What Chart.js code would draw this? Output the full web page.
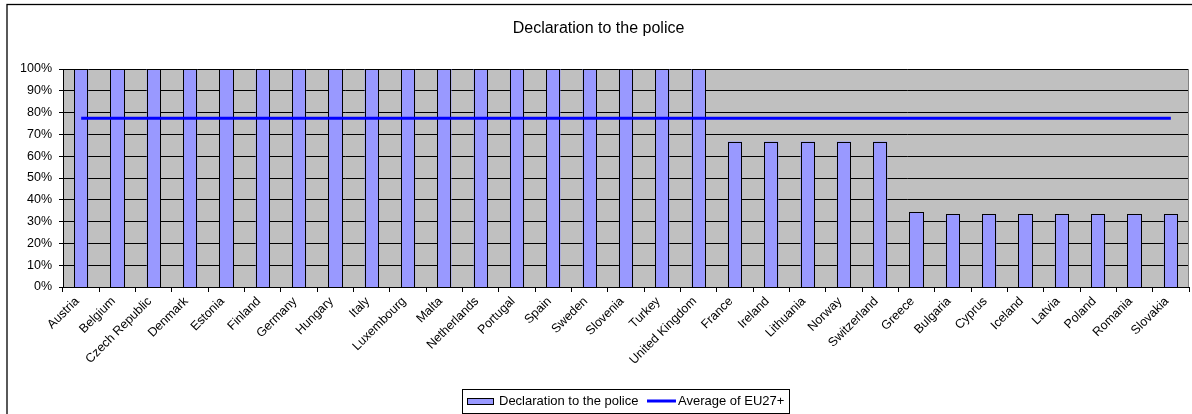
<!DOCTYPE html>
<html><head><meta charset="utf-8">
<script src="https://cdn.jsdelivr.net/npm/chart.js@4.4.0/dist/chart.umd.min.js"></script>
<style>html,body{margin:0;padding:0;background:#fff;}#wrap{width:1192px;height:414px;position:relative;overflow:hidden}</style>
</head><body><div id="wrap"><canvas id="c" width="1192" height="414"></canvas></div>
<script>
const chartTitle = 'Declaration to the police';
const categories = ['Austria','Belgium','Czech Republic','Denmark','Estonia','Finland','Germany','Hungary','Italy','Luxembourg','Malta','Netherlands','Portugal','Spain','Sweden','Slovenia','Turkey','United Kingdom','France','Ireland','Lithuania','Norway','Switzerland','Greece','Bulgaria','Cyprus','Iceland','Latvia','Poland','Romania','Slovakia'];
const barLabel = 'Declaration to the police';
const barValues = [100,100,100,100,100,100,100,100,100,100,100,100,100,100,100,100,100,100,66.7,66.7,66.7,66.7,66.7,34.4,33.3,33.3,33.3,33.3,33.3,33.3,33.3];
const lineLabel = 'Average of EU27+';
const lineValues = [77.4,77.4,77.4,77.4,77.4,77.4,77.4,77.4,77.4,77.4,77.4,77.4,77.4,77.4,77.4,77.4,77.4,77.4,77.4,77.4,77.4,77.4,77.4,77.4,77.4,77.4,77.4,77.4,77.4,77.4,77.4];
const yTicks = [0,10,20,30,40,50,60,70,80,90,100];

const FONT = 'Liberation Sans, Arial, sans-serif';

const framePlugin = {
  id: 'frame',
  beforeDraw(chart) {
    const ctx = chart.ctx, a = chart.chartArea;
    ctx.save();
    ctx.fillStyle = '#fff';
    ctx.fillRect(0, 0, chart.width, chart.height);
    ctx.strokeStyle = '#000';
    ctx.lineWidth = 1.3;
    ctx.strokeRect(7, 4.5, chart.width + 20, chart.height + 20);
    ctx.fillStyle = '#C0C0C0';
    ctx.fillRect(a.left, a.top, a.right - a.left, a.bottom - a.top);
    ctx.restore();
  },
  afterDatasetDraw(chart, args) {
    if (args.index !== 0) return;
    const ctx = chart.ctx;
    ctx.save();
    args.meta.data.forEach(bar => {
      const p = bar.getProps(['x', 'y', 'base', 'width'], true);
      const L = Math.round(p.x - p.width / 2), R = Math.round(p.x + p.width / 2);
      const T = Math.round(p.y), B = Math.round(p.base);
      ctx.fillStyle = chart.data.datasets[0].backgroundColor;
      ctx.fillRect(L, T, R - L, B - T);
      ctx.strokeStyle = '#000';
      ctx.lineWidth = 1;
      ctx.strokeRect(L + 0.5, T + 0.5, R - L - 1, B - T);
    });
    ctx.restore();
  },
  afterDraw(chart) {
    const ctx = chart.ctx, a = chart.chartArea;
    ctx.save();
    ctx.strokeStyle = '#808080';
    ctx.lineWidth = 1;
    ctx.beginPath();
    ctx.moveTo(Math.round(a.right) - 0.5, a.top);
    ctx.lineTo(Math.round(a.right) - 0.5, a.bottom);
    ctx.stroke();
    // legend
    const ds = chart.data.datasets;
    ctx.font = '13px ' + FONT;
    const w1 = ctx.measureText(ds[0].label).width;
    const w2 = ctx.measureText(ds[1].label).width;
    const total = 5 + 26 + 6 + w1 + 8.5 + 29 + 2 + w2 + 4.5;
    const left = Math.round(625.5 - total / 2);
    const top = 389, h = 24, cy = 401;
    ctx.strokeStyle = '#000';
    ctx.lineWidth = 1;
    ctx.strokeRect(left + 0.5, top + 0.5, Math.round(total), h);
    let x = left + 5;
    ctx.fillStyle = ds[0].backgroundColor;
    ctx.fillRect(x, cy - 3, 26, 6);
    ctx.strokeRect(x + 0.5, cy - 3 + 0.5, 26, 6);
    x += 26 + 6;
    ctx.fillStyle = '#000';
    ctx.textBaseline = 'middle';
    ctx.textAlign = 'left';
    ctx.fillText(ds[0].label, x, cy);
    x += w1 + 8.5;
    ctx.strokeStyle = ds[1].borderColor;
    ctx.lineWidth = 3;
    ctx.beginPath();
    ctx.moveTo(x, cy); ctx.lineTo(x + 29, cy); ctx.stroke();
    x += 29 + 2;
    ctx.fillText(ds[1].label, x, cy);
    ctx.restore();
  }
};

new Chart(document.getElementById('c'), {
  type: 'bar',
  data: {
    labels: categories,
    datasets: [
      { type: 'bar', label: barLabel, data: barValues, backgroundColor: '#9999FF', borderColor: '#000', borderWidth: 0,
        barPercentage: 0.39, categoryPercentage: 1, order: 1, clip: 2 },
      { type: 'line', label: lineLabel, data: lineValues, borderColor: '#0000FF', backgroundColor: '#0000FF', borderWidth: 3,
        pointRadius: 0, fill: false, tension: 0, order: 0 }
    ]
  },
  options: {
    responsive: false,
    devicePixelRatio: 1,
    animation: false,
    layout: { padding: { left: 8, right: 3, top: 0, bottom: 0 } },
    plugins: {
      legend: { display: false },
      tooltip: { enabled: false },
      title: { display: true, text: chartTitle, color: '#000', font: { family: FONT, size: 16, weight: 'normal' },
        padding: { top: 19.4, bottom: 30.4 } }
    },
    scales: {
      x: {
        offset: true,
        grid: { display: true, drawOnChartArea: false, drawTicks: true, tickLength: 5, color: '#000', offset: true },
        border: { display: true, color: '#000', width: 1 },
        ticks: { autoSkip: false, maxRotation: 45, minRotation: 45, color: '#000', font: { family: FONT, size: 12.5 }, padding: 2, labelOffset: -4 },
        afterFit(s) { s.height = 127; }
      },
      y: {
        min: 0, max: 100,
        afterBuildTicks(s) { s.ticks = yTicks.map(v => ({ value: v })); },
        grid: { color: '#000', lineWidth: 1, tickLength: 4, drawTicks: true },
        border: { display: true, color: '#000', width: 1 },
        ticks: { color: '#000', font: { family: FONT, size: 12.5 }, padding: 7, callback: v => v + '%' },
        afterFit(s) { s.width = 55; }
      }
    }
  },
  plugins: [framePlugin]
});
</script>
</body></html>
